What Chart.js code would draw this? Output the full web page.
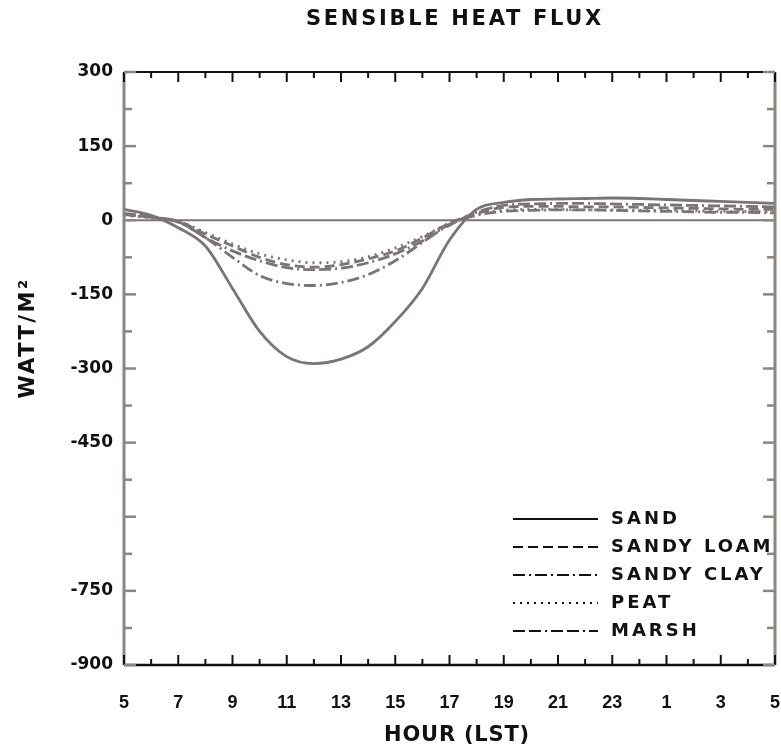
<!DOCTYPE html>
<html>
<head>
<meta charset="utf-8">
<script src="https://cdn.jsdelivr.net/npm/chart.js@4.4.1/dist/chart.umd.min.js"></script>
<style>
    html, body { margin: 0; padding: 0; background: #ffffff; overflow: hidden; }
    #wrap { position: relative; width: 781px; height: 754px; }
</style>
</head>
<body>
<div id="wrap"><canvas id="grafico"></canvas></div>
<script>
// hora local (5 .. 29, 25 = 1 h del día siguiente)
const horas = [5, 6, 7, 8, 9, 10, 11, 12, 13, 14, 15, 16, 17, 18, 19, 20, 21, 22, 23, 24, 25, 26, 27, 28, 29];

const arena       = [22, 10, -15, -52, -138, -225, -276, -290, -281, -256, -205, -138, -40, 22, 36, 42, 43, 44, 45, 44, 42, 40, 38, 36, 34];
const francoArena = [12, 6, -2, -28, -52, -75, -90, -95, -90, -78, -62, -36, -6, 14, 26, 28, 28, 27, 27, 26, 25, 24, 23, 22, 22];
const arcillaAren = [12, 6, -4, -35, -75, -112, -128, -132, -126, -110, -82, -45, -8, 10, 18, 20, 21, 21, 20, 19, 18, 17, 16, 16, 15];
const turba       = [10, 5, -2, -25, -48, -68, -80, -86, -84, -74, -56, -33, -6, 12, 20, 22, 22, 21, 21, 20, 20, 19, 18, 18, 17];
const pantano     = [14, 7, -3, -35, -62, -82, -96, -100, -97, -86, -68, -42, -10, 16, 30, 33, 34, 34, 33, 32, 31, 30, 29, 28, 27];

const etiquetasY = { 300: '300', 150: '150', 0: '0', '-150': '-150', '-300': '-300', '-450': '-450', '-600': '', '-750': '-750', '-900': '-900' };

const GRIS = '#7a7574';
const NEGRO = '#111111';

function puntos(valores) {
    return horas.map(function (h, i) {
        return { x: h, y: valores[i] };
    });
}

function serie(label, valores, dash) {
    return {
        label: label,
        data: puntos(valores),
        borderColor: GRIS,
        borderWidth: 2.8,
        borderDash: dash,
        pointRadius: 0,
        cubicInterpolationMode: 'monotone',
        fill: false
    };
}

const datasets = [
    serie('SAND', arena, []),
    serie('SANDY LOAM', francoArena, [10, 5]),
    serie('SANDY CLAY', arcillaAren, [12, 4, 2, 4]),
    serie('PEAT', turba, [2, 5]),
    serie('MARSH', pantano, [12, 4, 12, 4, 2, 4]),
    {
        label: null,
        data: [{ x: 5, y: 0 }, { x: 29, y: 0 }],
        borderColor: GRIS,
        borderWidth: 2,
        pointRadius: 0
    }
];

function texto(ctx, str, x, y, font, spacing, align) {
    ctx.save();
    ctx.font = font;
    ctx.letterSpacing = spacing + 'px';
    ctx.fillStyle = NEGRO;
    ctx.textAlign = align || 'center';
    ctx.textBaseline = 'middle';
    ctx.fillText(str, x, y);
    ctx.restore();
}

function linea(ctx, x1, y1, x2, y2, color, ancho, dash) {
    ctx.save();
    ctx.strokeStyle = color;
    ctx.lineWidth = ancho;
    ctx.setLineDash(dash || []);
    ctx.beginPath();
    ctx.moveTo(x1, y1);
    ctx.lineTo(x2, y2);
    ctx.stroke();
    ctx.restore();
}

const decoracionPlugin = {
    id: 'decoracion',
    afterDraw: function (chart) {
        const ctx = chart.ctx;
        const a = chart.chartArea;
        const sx = chart.scales.x;
        const sy = chart.scales.y;

        // marco
        linea(ctx, a.left, a.top, a.left, a.bottom, '#8c8683', 3);
        linea(ctx, a.right, a.top, a.right, a.bottom, '#8c8683', 3);
        linea(ctx, a.left, a.top, a.right, a.top, NEGRO, 2);
        linea(ctx, a.left, a.bottom, a.right, a.bottom, NEGRO, 2.5);

        // marcas horarias arriba y abajo
        for (let h = 5; h <= 29; h++) {
            const px = sx.getPixelForValue(h);
            const largo = (h % 2 === 1) ? 10 : 6;
            linea(ctx, px, a.bottom, px, a.bottom - largo, NEGRO, 2);
            linea(ctx, px, a.top, px, a.top + largo, NEGRO, 2);
        }

        // marcas verticales izquierda y derecha
        for (let v = -900; v <= 300; v += 75) {
            const py = sy.getPixelForValue(v);
            const largo = (v % 150 === 0) ? 12 : 8;
            linea(ctx, a.left, py, a.left + largo, py, '#8c8683', 2.5);
            linea(ctx, a.right, py, a.right - largo, py, '#8c8683', 2.5);
        }

        // títulos
        texto(ctx, 'SENSIBLE HEAT FLUX', 455, 20, 'bold 21px "DejaVu Sans"', 2.7);
        texto(ctx, 'HOUR (LST)', 457, 736, 'bold 21px "DejaVu Sans"', 0.8);

        ctx.save();
        ctx.translate(29, 338);
        ctx.rotate(-Math.PI / 2);
        texto(ctx, 'WATT/M²', 0, 0, 'bold 21px "DejaVu Sans"', 2.5);
        ctx.restore();

        // leyenda
        const items = chart.data.datasets.filter(function (d) { return d.label; });
        items.forEach(function (d, i) {
            const fy = 519 + i * 28;
            linea(ctx, 513, fy, 598, fy, NEGRO, 2, d.borderDash);
            texto(ctx, d.label, 611, fy, 'bold 18px "DejaVu Sans"', 3, 'left');
        });
    }
};

new Chart(document.getElementById('grafico').getContext('2d'), {
    type: 'line',
    data: { datasets: datasets },
    plugins: [decoracionPlugin],
    options: {
        responsive: true,
        maintainAspectRatio: false,
        animation: false,
        layout: {
            autoPadding: false,
            padding: { top: 72, right: 6, left: 0, bottom: 0 }
        },
        scales: {
            x: {
                type: 'linear',
                min: 5,
                max: 29,
                afterFit: function (scale) {
                    scale.height = 89;
                    scale.paddingLeft = 0;
                    scale.paddingRight = 0;
                },
                grid: { display: false, drawTicks: false },
                border: { display: false },
                ticks: {
                    stepSize: 2,
                    padding: 27,
                    color: NEGRO,
                    font: { family: 'Liberation Sans', weight: 'bold', size: 18 },
                    callback: function (value) {
                        return String(((value - 1) % 24) + 1);
                    }
                }
            },
            y: {
                min: -900,
                max: 300,
                afterFit: function (scale) { scale.width = 124; },
                grid: { display: false, drawTicks: false },
                border: { display: false },
                ticks: {
                    stepSize: 150,
                    padding: 11,
                    color: NEGRO,
                    font: { family: 'DejaVu Sans', weight: 'bold', size: 17 },
                    callback: function (value) {
                        return etiquetasY[value];
                    }
                }
            }
        },
        plugins: {
            legend: { display: false },
            title: { display: false },
            tooltip: { enabled: false }
        }
    }
});
</script>
</body>
</html>
